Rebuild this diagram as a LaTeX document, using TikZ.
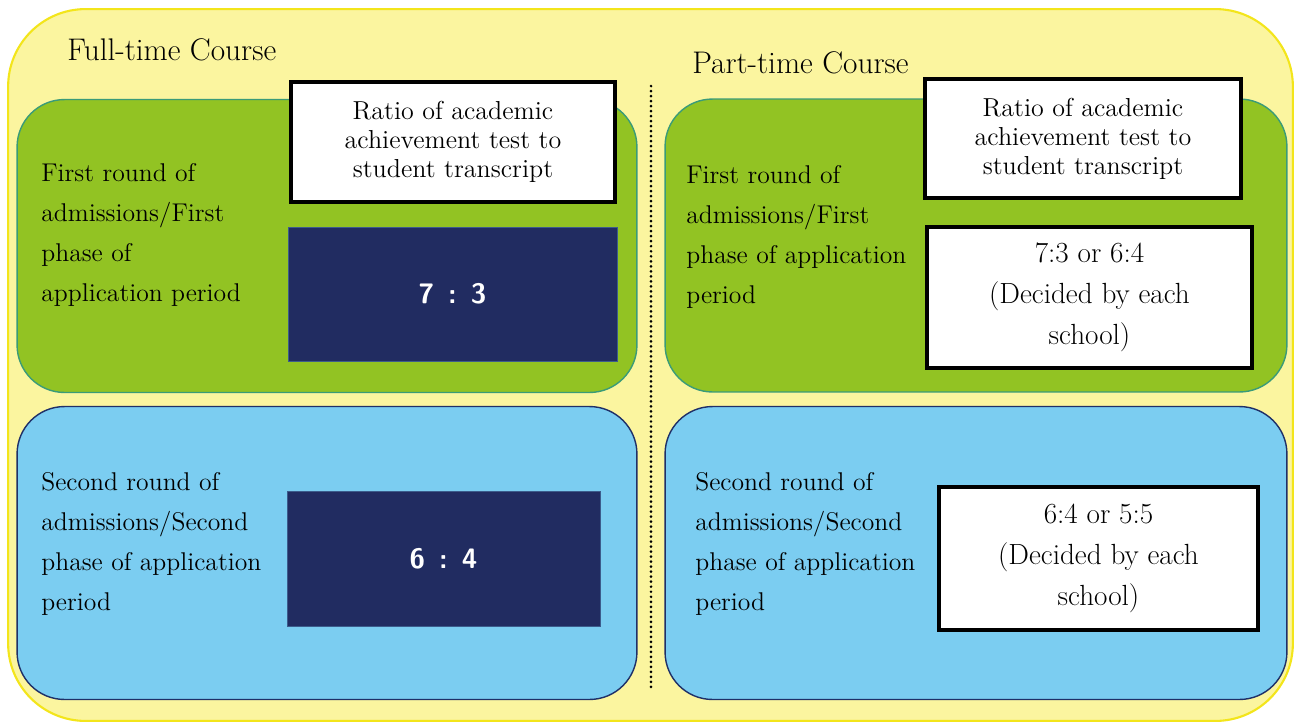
\documentclass[tikz,border=0pt]{standalone}
\usepackage{tikz}
\usetikzlibrary{positioning}
\definecolor{padyellow}{HTML}{FBF59F}
\definecolor{padedge}{HTML}{F3E51B}
\definecolor{roundgreen}{HTML}{92C323}
\definecolor{greenedge}{HTML}{3A9B78}
\definecolor{roundblue}{HTML}{7BCDF1}
\definecolor{blueedge}{HTML}{1F3068}
\definecolor{rationavy}{HTML}{212C61}

\begin{document}
\begin{tikzpicture}[x=0.02cm,y=-0.02cm]
\tikzstyle{course}=[rectangle,draw,rounded corners=0.95cm,line width=0.8pt,minimum width=12.4cm,minimum height=5.86cm,inner sep=0pt]
\tikzstyle{header}=[rectangle,draw=black,fill=white,line width=2.3pt,align=center,inner sep=0pt,font=\fontsize{14.8}{16.5}\selectfont]
\tikzstyle{ratio}=[rectangle,fill=rationavy,draw=rationavy!70!roundblue,line width=0.4pt,inner sep=0pt,text=white,font=\fontsize{16}{18}\selectfont\sffamily\bfseries]
\tikzstyle{choice}=[rectangle,draw=black,fill=white,line width=2.3pt,align=center,inner sep=0pt,font=\fontsize{16.6}{23.2}\selectfont]
\tikzstyle{label}=[anchor=west,align=left,inner sep=0pt,font=\fontsize{14.6}{22.7}\selectfont]
\tikzstyle{title}=[anchor=west,inner sep=0pt,font=\fontsize{17.8}{20}\selectfont]

\useasboundingbox (0,0) rectangle (1296,725);
% background pad
\node[rectangle,draw=padedge,fill=padyellow,line width=1.2pt,rounded corners=1.55cm,minimum width=25.7cm,minimum height=14.24cm] (pad) at (650.5,365) {};

% course titles
\node[title] (fulltitle) at (67,50) {Full-time Course};
\node[title] (parttitle) at (692,63) {Part-time Course};

% round boxes
\node[course,fill=roundgreen,draw=greenedge] (fullfirst) at (327,246) {};
\node[course,fill=roundgreen,draw=greenedge,minimum width=12.44cm] (partfirst) at (976,245.5) {};
\node[course,fill=roundblue,draw=blueedge] (fullsecond) at (327,553) {};
\node[course,fill=roundblue,draw=blueedge,minimum width=12.44cm] (partsecond) at (976,553) {};

% divider
\coordinate (divtop) at (651,86);
\coordinate (divbot) at (651,690);
\draw[line width=1.7pt,line cap=round,dash pattern=on 0pt off 2.85pt] (divtop) -- (divbot);

% headers
\node[header,minimum width=6.48cm,minimum height=2.4cm] (fullhead) at (453,142) {Ratio of academic\\achievement test to\\student transcript};
\node[header,minimum width=6.32cm,minimum height=2.38cm] (parthead) at (1083,138.5) {Ratio of academic\\achievement test to\\student transcript};

% ratios
\node[ratio,minimum width=6.58cm,minimum height=2.68cm] (fullratioa) at (452.5,294) {7\enspace:\enspace3};
\node[ratio,minimum width=6.26cm,minimum height=2.7cm] (fullratiob) at (443.5,558.5) {6\enspace:\enspace4};
\node[choice,minimum width=6.5cm,minimum height=2.82cm] (partratioa) at (1089.5,297.5) {7:3 or 6:4\\(Decided by each\\school)};
\node[choice,minimum width=6.38cm,minimum height=2.86cm] (partratiob) at (1098.5,558.5) {6:4 or 5:5\\(Decided by each\\school)};

% round labels
\node[label] (fullfirstlbl) at (41,235) {First round of\\admissions/First\\phase of\\application period};
\node[label] (partfirstlbl) at (686,237) {First round of\\admissions/First\\phase of application\\period};
\node[label] (fullsecondlbl) at (41,544) {Second round of\\admissions/Second\\phase of application\\period};
\node[label] (partsecondlbl) at (695,544) {Second round of\\admissions/Second\\phase of application\\period};
\end{tikzpicture}
\end{document}
